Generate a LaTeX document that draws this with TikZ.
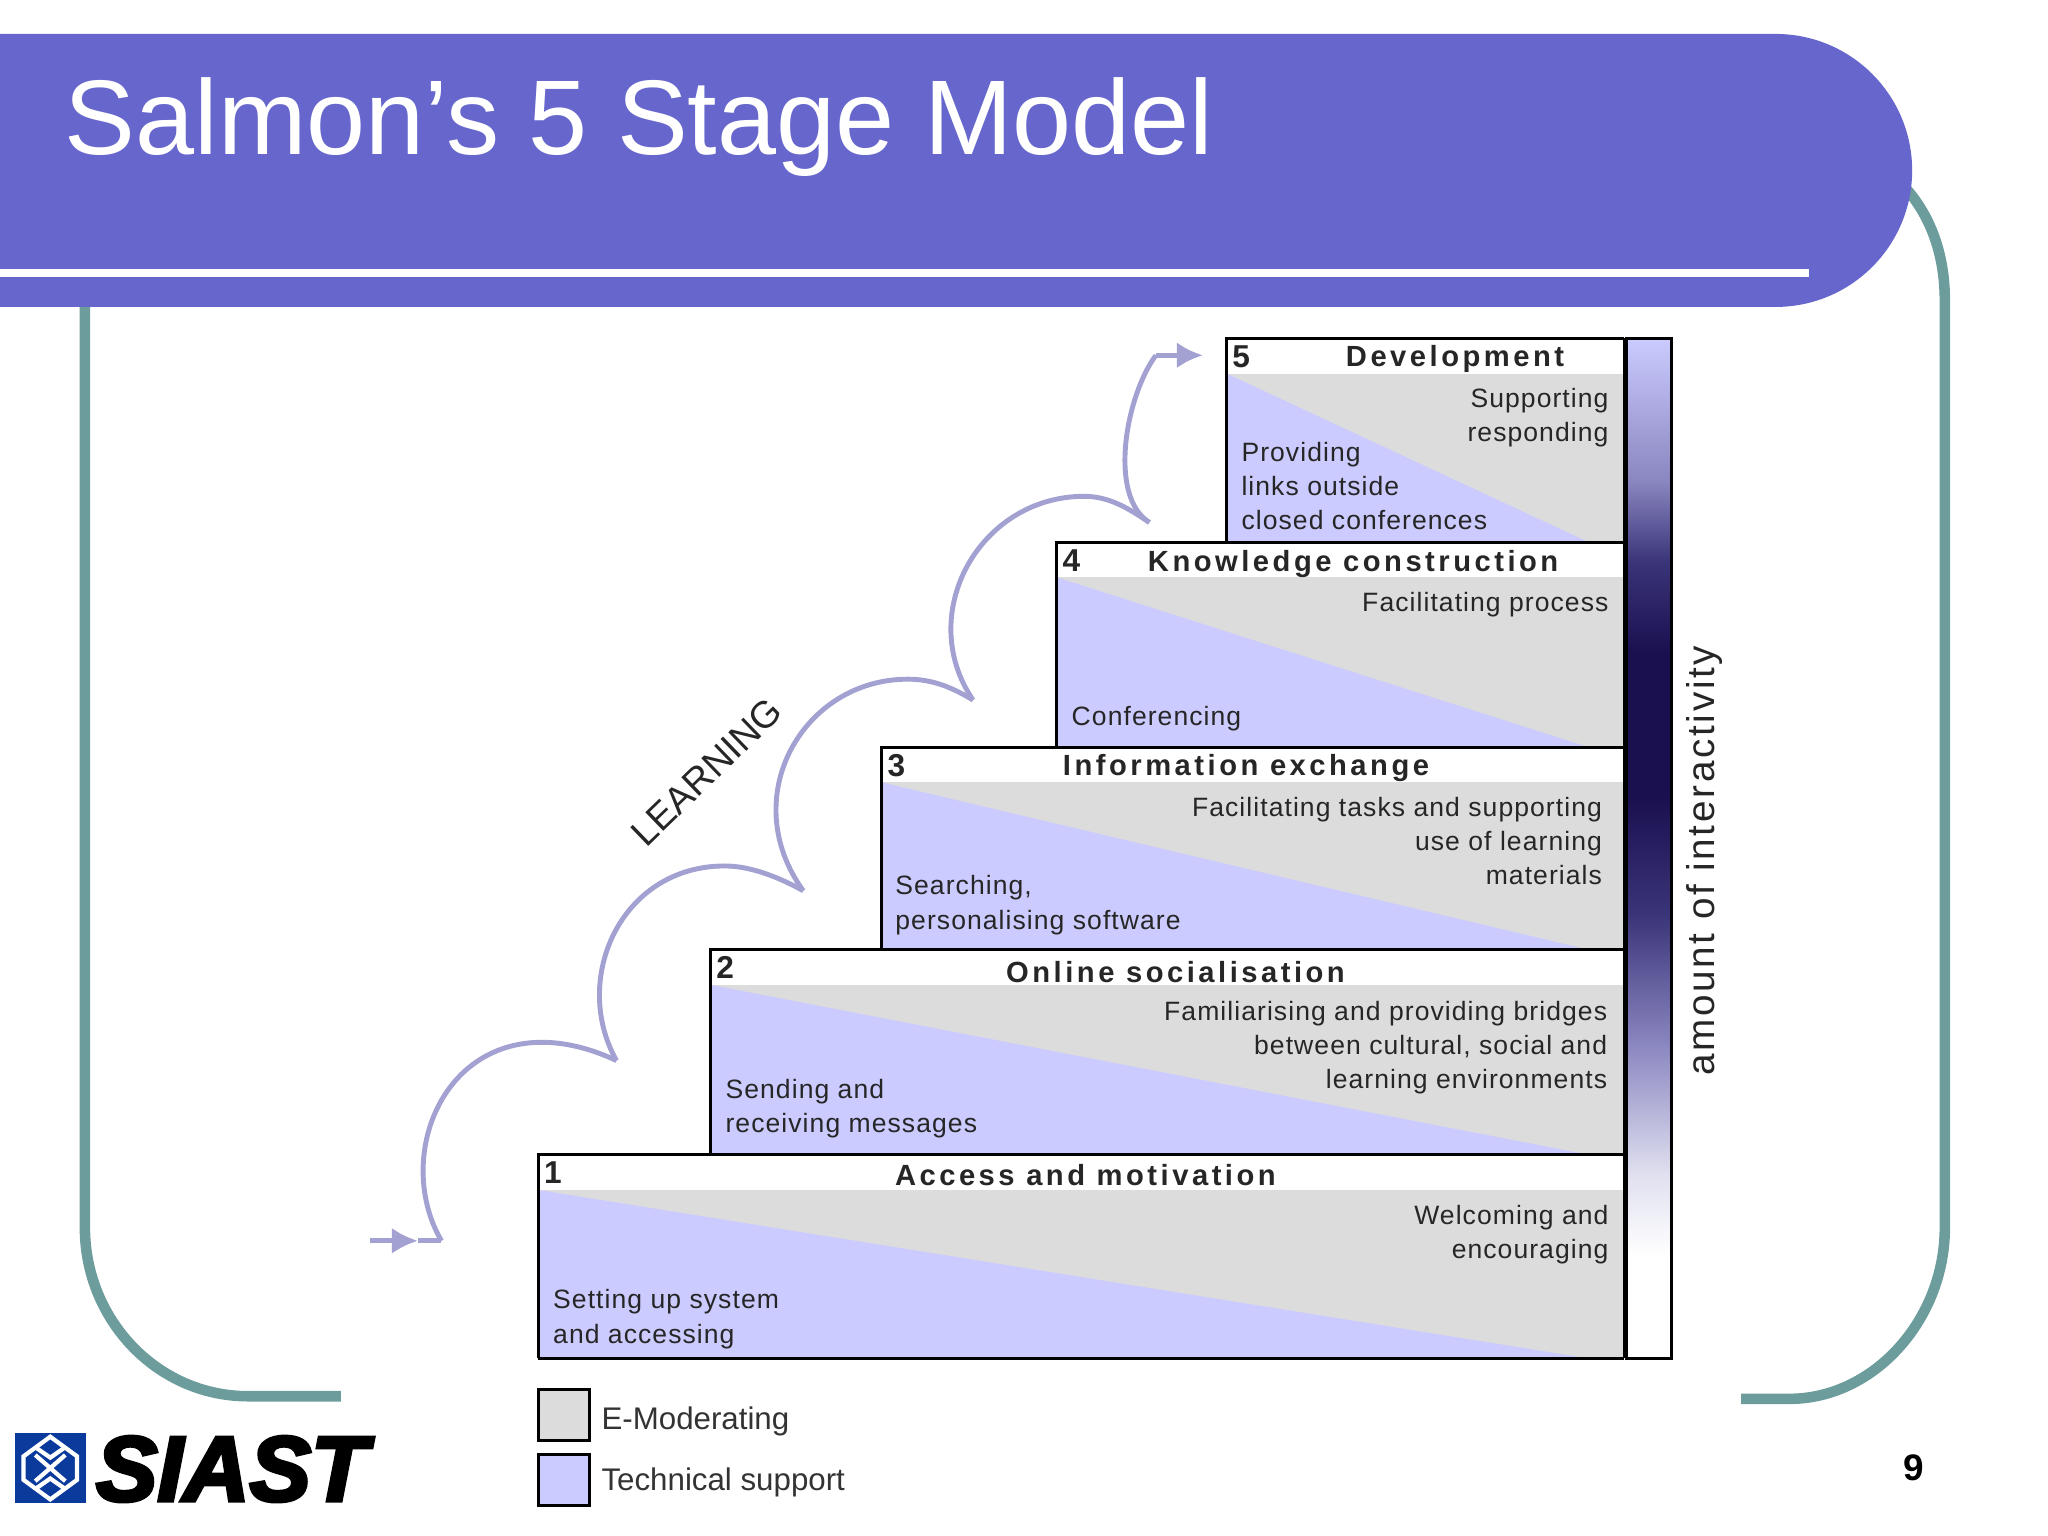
\documentclass[tikz,border=0pt]{standalone}
\usepackage{fontspec}
\setmainfont{Liberation Sans}
\newfontfamily\stagefont[LetterSpace=4]{Liberation Sans}
\newfontfamily\headfont[LetterSpace=12]{Liberation Sans}
\newfontfamily\sidefont[LetterSpace=7]{Liberation Sans}
\newfontfamily\logofont[BoldItalicFeatures={FakeBold=4}]{Liberation Sans}
\usetikzlibrary{arrows.meta, positioning}
\definecolor{titleblue}{HTML}{6666CC}
\definecolor{framegreen}{HTML}{6C9C9C}
\definecolor{techblue}{HTML}{CBCBFF}
\definecolor{modgray}{HTML}{DCDCDC}
\definecolor{learnline}{HTML}{A3A0D2}
\definecolor{logoblue}{HTML}{0A3A9C}
\definecolor{bardark}{HTML}{1A1050}
\definecolor{barmid}{HTML}{3A3478}
\definecolor{barsoft}{HTML}{8A86C0}
\definecolor{barpale}{HTML}{E0E0F0}
\pgfdeclareverticalshading{barshade}{100bp}{color(0bp)=(white); color(30bp)=(white); color(34bp)=(barpale); color(40.4bp)=(barsoft); color(46.8bp)=(barmid); color(52.5bp)=(bardark); color(59.6bp)=(bardark); color(64bp)=(barmid); color(68bp)=(barsoft); color(75bp)=(techblue); color(100bp)=(techblue)}

\begin{document}
\begin{tikzpicture}[
    x=0.013061cm, y=-0.013061cm,
    frame/.style={draw=framegreen, line width=3pt},
    stagetext/.style={inner sep=0pt, text=black!85, font=\stagefont\fontsize{7.55}{9.7}\selectfont},
    stagehead/.style={inner sep=0pt, text=black!85, font=\headfont\bfseries\fontsize{8.3}{10}\selectfont},
    swatch/.style={draw=black, line width=0.85pt},
    legendtext/.style={inner sep=0pt, anchor=west, text=black!80, font=\fontsize{8.9}{10}\selectfont},
    learn/.style={draw=learnline, line width=1.4pt},
    learnarrow/.style={learn, -{Latex[length=2.6mm, width=2.6mm]}},
    knot/.style={white, line width=1.2pt}
]
    \useasboundingbox (0,0) rectangle (1568,1176);

    % frame behind the title band
    \draw[frame] (1450,135) .. controls (1478,160) and (1489,195) .. (1489,230) -- (1489,940)
        .. controls (1489,1010) and (1435,1071) .. (1370,1071) -- (1333,1071);
    \draw[frame] (65,230) -- (65,940) .. controls (65,1010) and (120,1069) .. (190,1069) -- (261,1069);

    % title band
    \fill[titleblue] (0,26) {[rounded corners=1.365cm] -- (1464,26) -- (1464,235)} -- (0,235) -- cycle;
    \fill[white] (0,206) rectangle (1385,212);
    \node[anchor=base west, inner sep=0pt, text=white, font=\fontsize{30.2}{34}\selectfont] (title) at (49,118) {Salmon’s 5 Stage Model};

    % stages, top one first
    \foreach \n/\lft/\tp/\bt in {5/939/259/415, 4/809/415/572, 3/675/572/727, 2/544/727/884, 1/412/884/1040} {
        \fill[modgray] (\lft,\tp) rectangle (1243,\bt);
        \fill[techblue] (\lft,\tp+27) -- (\lft,\bt) -- (1216,\bt) -- cycle;
        \fill[white] (\lft,\tp) rectangle (1243,\tp+27);
        \draw[black, line width=0.85pt] (\lft,\bt) -- (\lft,\tp) -- (1243,\tp);
        \node[stagehead, anchor=west, font=\bfseries\fontsize{9}{10}\selectfont] (num\n) at (\lft+4,\tp+14) {\n};
    }
    \draw[black, line width=0.85pt] (412,1040) -- (1243,1040);

    \node[stagehead] (dev) at (1114,275) {Development};
    \node[stagehead] (know) at (1036,432) {Knowledge construction};
    \node[stagehead] (info) at (954,588) {Information exchange};
    \node[stagehead] (online) at (900,744) {Online socialisation};
    \node[stagehead] (access) at (831,900) {Access and motivation};

    \node[stagetext, anchor=east, align=right] (devmod) at (1232,320) {Supporting\\responding};
    \node[stagetext, anchor=west, align=left] (devtech) at (950,372) {Providing\\links outside\\closed conferences};
    \node[stagetext, anchor=east, align=right] (knowmod) at (1232,463) {Facilitating process};
    \node[stagetext, anchor=west, align=left] (knowtech) at (820,550) {Conferencing};
    \node[stagetext, anchor=east, align=right] (infomod) at (1227,644) {Facilitating tasks and supporting\\use of learning\\materials};
    \node[stagetext, anchor=west, align=left] (infotech) at (685,693) {Searching,\\personalising software};
    \node[stagetext, anchor=east, align=right] (onlinemod) at (1231,802) {Familiarising and providing bridges\\between cultural, social and\\learning environments};
    \node[stagetext, anchor=west, align=left] (onlinetech) at (555,849) {Sending and\\receiving messages};
    \node[stagetext, anchor=east, align=right] (accessmod) at (1232,945) {Welcoming and\\encouraging};
    \node[stagetext, anchor=west, align=left] (accesstech) at (423,1010) {Setting up system\\and accessing};

    % interactivity bar
    \shade[shading=barshade] (1245,259) rectangle (1280,1040);
    \draw[black, line width=0.85pt] (1245,259) rectangle (1280,1040);
    \draw[black, line width=1.1pt] (1244,259) -- (1244,1040);
    \node[rotate=90, inner sep=0pt, text=black!85, font=\sidefont\fontsize{11}{12}\selectfont] (amount) at (1305,659) {amount of interactivity};

    % learning curve
    \coordinate (in) at (283,950);
    \coordinate (inmid) at (320,950);
    \coordinate (c1) at (338,950);
    \coordinate (c2) at (472,812);
    \coordinate (c3) at (615,682);
    \coordinate (c4) at (745,536);
    \coordinate (c5) at (880,400);
    \coordinate (t1) at (415,798);
    \coordinate (t2) at (555,663);
    \coordinate (t3) at (695,520);
    \coordinate (t4) at (830,380);
    \coordinate (c6) at (885,272);
    \coordinate (out) at (921,272);
    \draw[learnarrow] (in) -- (inmid);
    \draw[learn] (inmid) -- (c1);
    \draw[learn] (c1) .. controls (303,890) and (335,798) .. (t1) .. controls (435,798) and (455,804) .. (c2);
    \draw[learn] (c2) .. controls (437,750) and (475,663) .. (t2) .. controls (575,663) and (597,672) .. (c3);
    \draw[learn] (c3) .. controls (563,610) and (615,520) .. (t3) .. controls (715,520) and (730,527) .. (c4);
    \draw[learn] (c4) .. controls (700,470) and (750,380) .. (t4) .. controls (850,380) and (865,390) .. (c5);
    \draw[learn] (c5) .. controls (848,380) and (862,303) .. (c6);
    \draw[learnarrow] (c6) -- (out);
    \node[rotate=44, inner sep=0pt, text=black!85, font=\fontsize{10.7}{12}\selectfont] (learning) at (541,591) {LEARNING};

    % legend
    \node[swatch, fill=modgray, inner sep=0pt, minimum size=0.51cm] (emod) at (431.5,1083.5) {};
    \node[swatch, fill=techblue, inner sep=0pt, minimum size=0.51cm] (tech) at (431.5,1133.5) {};
    \node[legendtext] (emodlabel) at (460,1088) {E-Moderating};
    \node[legendtext] (techlabel) at (460,1135) {Technical support};

    % logo
    \fill[logoblue] (11.5,1097) rectangle (66,1151);
    \draw[knot] (38.5,1100) -- (59,1115) -- (59,1133) -- (38.5,1148) -- (18,1133) -- (18,1115) -- cycle;
    \draw[knot] (27,1108) -- (38.5,1116) -- (50,1108);
    \draw[knot] (27,1140) -- (38.5,1132) -- (50,1140);
    \draw[knot] (27,1114) -- (50,1134) (50,1114) -- (27,1134);
    \node[anchor=base west, inner sep=0pt, font=\logofont\bfseries\itshape\fontsize{26.2}{30}\selectfont] (siast) at (73,1149) {SIAST};

    % page number
    \node[inner sep=0pt, font=\bfseries\fontsize{10.5}{12}\selectfont] (page) at (1465,1124) {9};
\end{tikzpicture}
\end{document}
